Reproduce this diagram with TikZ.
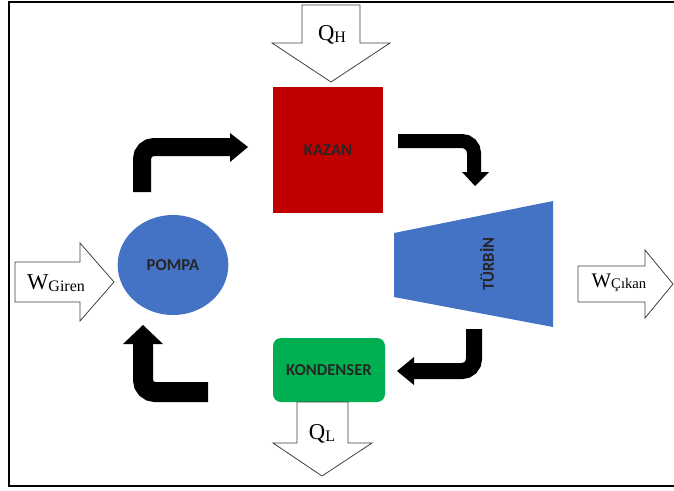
\documentclass[tikz,border=0pt]{standalone}
\usepackage{fontspec}
\setmainfont{Liberation Serif}
\newfontfamily\calib{Carlito}
\usetikzlibrary{shapes.geometric}
\definecolor{kred}{HTML}{C00000}
\definecolor{kblue}{HTML}{4472C4}
\definecolor{kgreen}{HTML}{00B050}
\tikzset{
  blockarrow/.style={draw=black!75, line width=0.6pt, fill=white, line join=miter},
  flow/.style={draw=black, line cap=butt, rounded corners=9pt},
  flowhead/.style={fill=black, draw=none},
  lbl/.style={font=\calib\fontsize{12.5pt}{14pt}\selectfont\bfseries, text=black!85, inner sep=0pt},
}
\begin{document}
\begin{tikzpicture}[x=0.75pt,y=-0.75pt]
\useasboundingbox (0,0) rectangle (674,490);
% frame
\draw[line width=1.6pt] (676,2) -- (9,2) -- (9,486) -- (676,486);

% components
\node[draw=none, fill=kred, minimum width=82.5pt, minimum height=94.5pt, inner sep=0pt] (kazan) at (328,150) {};
\node[lbl] (kazant) at (kazan.center) {KAZAN};

\node[ellipse, fill=kblue, minimum width=83pt, minimum height=75pt, inner sep=0pt] (pompa) at (173,265) {};
\node[lbl] (pompat) at (pompa.center) {POMPA};

\coordinate (t1) at (394,233);
\coordinate (t2) at (553,201);
\coordinate (t3) at (553,327);
\coordinate (t4) at (394,297);
\fill[kblue] (t1) -- (t2) -- (t3) -- (t4) -- cycle;
\node[lbl, rotate=90] (turbin) at (487,264) {TÜRBİN};

\node[fill=kgreen, rounded corners=6pt, minimum width=84pt, minimum height=48pt, inner sep=0pt] (kond) at (329,370) {};
\node[lbl] (kondt) at (kond.center) {KONDENSER};

% heat / work block arrows
\draw[blockarrow] (302,5) -- (360,5) -- (360,43) -- (390,43) -- (331,82) -- (272,43) -- (302,43) -- cycle;
\node (qh) at (332,35) {\fontsize{17pt}{18pt}\selectfont Q\raisebox{-1pt}{\fontsize{12pt}{13pt}\selectfont H}};

\draw[blockarrow] (297,402) -- (348,402) -- (348,443) -- (372,443) -- (322,476) -- (273,443) -- (297,443) -- cycle;
\node (ql) at (322,434) {\fontsize{17pt}{18pt}\selectfont Q\raisebox{-1pt}{\fontsize{12pt}{13pt}\selectfont L}};

\draw[blockarrow] (15,262) -- (80,262) -- (80,243) -- (114,282) -- (80,321) -- (80,302) -- (15,302) -- cycle;
\node (wg) at (56,283) {\fontsize{17pt}{18pt}\selectfont W\raisebox{-1.5pt}{\fontsize{12pt}{13pt}\selectfont Giren}};

\draw[blockarrow] (578,266) -- (645,266) -- (645,250) -- (673,284) -- (645,318) -- (645,302) -- (578,302) -- cycle;
\node (wc) at (619,283) {\fontsize{15.5pt}{16pt}\selectfont W\raisebox{-1pt}{\fontsize{11pt}{12pt}\selectfont Çıkan}};

% cycle flow arrows
\coordinate (a1s) at (142,192);
\coordinate (a1e) at (231,147);
\draw[flow, line width=13.5pt] (a1s) |- (a1e);
\fill[flowhead] (230,133) -- (248,147) -- (230,162) -- cycle;

\coordinate (a2s) at (398,141);
\coordinate (a2e) at (474,173);
\draw[flow, line width=10.5pt] (a2s) -| (a2e);
\fill[flowhead] (462,172) -- (475,186) -- (489,172) -- cycle;

\coordinate (a3s) at (474,329);
\coordinate (a3e) at (413,371);
\draw[flow, line width=12pt] (a3s) |- (a3e);
\fill[flowhead] (414,357) -- (397,371) -- (414,385) -- cycle;

\coordinate (a4s) at (208,392);
\coordinate (a4e) at (143,343);
\draw[flow, line width=15pt] (a4s) -| (a4e);
\fill[flowhead] (123,344) -- (143,325) -- (163,344) -- cycle;
\end{tikzpicture}
\end{document}
